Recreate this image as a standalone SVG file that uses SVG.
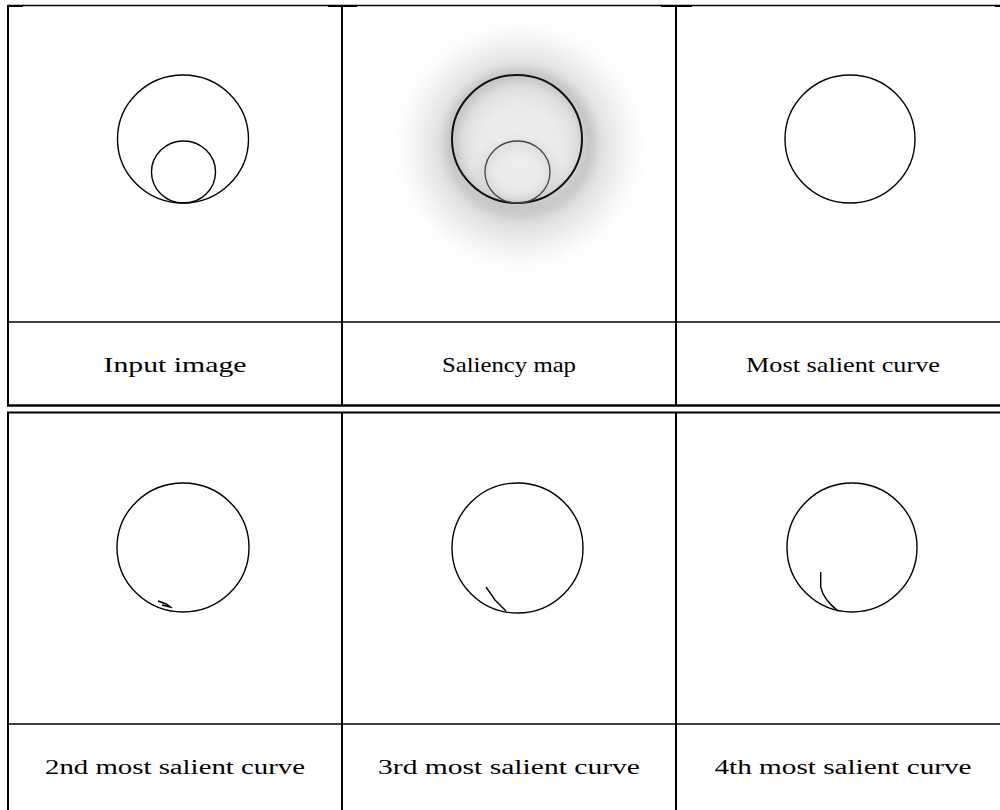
<svg xmlns="http://www.w3.org/2000/svg" width="1000" height="810" viewBox="0 0 1000 810">
<style>
.rule{stroke:#000;fill:none}
.curve{fill:none;stroke:#000;stroke-width:1.4}
.lbl{font-family:"Liberation Serif","DejaVu Serif",serif;fill:#000;text-anchor:middle}
.top{font-size:22px}
.bot{font-size:20px}
</style>
<defs>
<radialGradient id="halo" gradientUnits="userSpaceOnUse" cx="520" cy="146" r="130">
<stop offset="0" stop-color="#efefef"/>
<stop offset="0.3" stop-color="#ebebeb"/>
<stop offset="0.45" stop-color="#e0e0e0"/>
<stop offset="0.55" stop-color="#d8d8d8"/>
<stop offset="0.65" stop-color="#e4e4e4"/>
<stop offset="0.8" stop-color="#f3f3f3"/>
<stop offset="0.92" stop-color="#fcfcfc"/>
<stop offset="1" stop-color="#ffffff"/>
</radialGradient>
<filter id="blur" x="-30%" y="-30%" width="160%" height="160%"><feGaussianBlur stdDeviation="5"/></filter>
</defs>
<rect width="1000" height="810" fill="#fff"/>

<g id="grid">
<line class="rule" x1="8" y1="5.5" x2="1000" y2="5.5" stroke-width="1.3"/>
<rect x="8" y="5" width="15" height="2" fill="#000"/>
<rect x="328" y="5" width="29" height="2" fill="#000"/>
<rect x="661" y="5" width="31" height="2" fill="#000"/>
<rect x="995" y="5" width="5" height="2" fill="#000"/>
<line class="rule" x1="8" y1="5" x2="8" y2="406" stroke-width="2"/>
<line class="rule" x1="342" y1="5" x2="342" y2="406" stroke-width="2"/>
<line class="rule" x1="676" y1="5" x2="676" y2="406" stroke-width="2"/>
<line class="rule" x1="8" y1="322" x2="1000" y2="322" stroke-width="1.5"/>
<line class="rule" x1="7" y1="405.5" x2="1000" y2="405.5" stroke-width="2.5"/>
<line class="rule" x1="7" y1="412.5" x2="1000" y2="412.5" stroke-width="2"/>
<line class="rule" x1="8" y1="412" x2="8" y2="810" stroke-width="2"/>
<line class="rule" x1="342" y1="412" x2="342" y2="810" stroke-width="2"/>
<line class="rule" x1="676" y1="412" x2="676" y2="810" stroke-width="2"/>
<line class="rule" x1="8" y1="724" x2="1000" y2="724" stroke-width="1.5"/>
</g>

<g id="input-image">
<ellipse class="curve" cx="183" cy="139" rx="65.5" ry="64"/>
<ellipse class="curve" cx="183.5" cy="172" rx="32" ry="31"/>
<text class="lbl top" x="175" y="372" textLength="143" lengthAdjust="spacingAndGlyphs">Input image</text>
</g>

<g id="saliency-map">
<rect x="390" y="16" width="260" height="260" fill="url(#halo)"/>
<ellipse cx="520" cy="142" rx="68" ry="67" fill="none" stroke="#a0a0a0" stroke-width="14" opacity="0.35" filter="url(#blur)"/>
<ellipse cx="518" cy="175" rx="34" ry="31" fill="none" stroke="#b8b8b8" stroke-width="10" opacity="0.3" filter="url(#blur)"/>
<ellipse cx="517" cy="139" rx="65" ry="64" fill="none" stroke="#111" stroke-width="2"/>
<ellipse cx="517.5" cy="172" rx="32.5" ry="31" fill="none" stroke="#444" stroke-width="1.3"/>
<text class="lbl top" x="509" y="372" textLength="134" lengthAdjust="spacingAndGlyphs">Saliency map</text>
</g>

<g id="most-salient">
<ellipse class="curve" cx="850" cy="139" rx="65" ry="64" stroke-width="1.7"/>
<text class="lbl top" x="843" y="372" textLength="194" lengthAdjust="spacingAndGlyphs">Most salient curve</text>
</g>

<g id="second-curve">
<ellipse class="curve" cx="183" cy="547.5" rx="66" ry="64.5"/>
<path class="curve" d="M158,601 L166,604 L172,608 M162,605 L170,607"/>
<text class="lbl bot" x="175" y="774" textLength="260" lengthAdjust="spacingAndGlyphs">2nd most salient curve</text>
</g>

<g id="third-curve">
<ellipse class="curve" cx="517.5" cy="548" rx="65.5" ry="65"/>
<path class="curve" d="M486,587 L495,600 L506,611"/>
<text class="lbl bot" x="509" y="774" textLength="262" lengthAdjust="spacingAndGlyphs">3rd most salient curve</text>
</g>

<g id="fourth-curve">
<ellipse class="curve" cx="852" cy="547.5" rx="65" ry="64.5"/>
<path class="curve" d="M820.7,572 L820.7,587 Q823,599 838,611"/>
<text class="lbl bot" x="843" y="774" textLength="257" lengthAdjust="spacingAndGlyphs">4th most salient curve</text>
</g>
</svg>
